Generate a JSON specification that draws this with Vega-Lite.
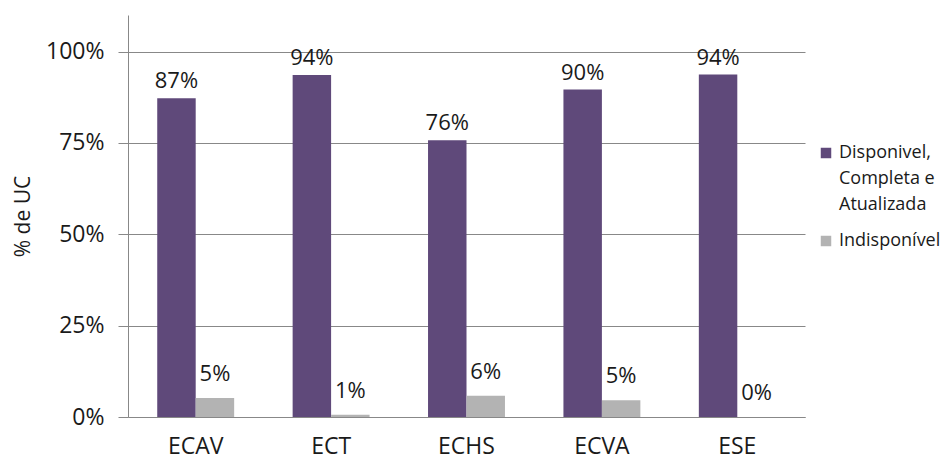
{
  "$schema": "https://vega.github.io/schema/vega-lite/v6.json",
  "autosize": {"type": "none"},
  "padding": {"left": 128, "top": 15, "right": 138, "bottom": 45},
  "width": 677,
  "height": 402,
  "background": "white",
  "config": {
    "font": "Open Sans",
    "view": {"stroke": null},
    "text": {"font": "Open Sans"}
  },
  "data": {
    "values": [
      {"escola": "ECAV", "serie": "Disponivel, Completa e Atualizada", "valor": 0.872},
      {"escola": "ECT", "serie": "Disponivel, Completa e Atualizada", "valor": 0.936},
      {"escola": "ECHS", "serie": "Disponivel, Completa e Atualizada", "valor": 0.757},
      {"escola": "ECVA", "serie": "Disponivel, Completa e Atualizada", "valor": 0.896},
      {"escola": "ESE", "serie": "Disponivel, Completa e Atualizada", "valor": 0.937},
      {"escola": "ECAV", "serie": "Indisponível", "valor": 0.052},
      {"escola": "ECT", "serie": "Indisponível", "valor": 0.006},
      {"escola": "ECHS", "serie": "Indisponível", "valor": 0.058},
      {"escola": "ECVA", "serie": "Indisponível", "valor": 0.046},
      {"escola": "ESE", "serie": "Indisponível", "valor": 0.0}
    ]
  },
  "encoding": {
    "x": {
      "field": "escola", "type": "nominal", "sort": null,
      "scale": {"paddingInner": 0, "paddingOuter": 0},
      "axis": {
        "title": null, "labelAngle": 0, "ticks": false,
        "domainColor": "#888888", "labelFontSize": 23, "labelColor": "#1a1a1a",
        "labelPadding": 18, "labelFont": "Open Sans"
      }
    },
    "xOffset": {
      "field": "serie", "type": "nominal",
      "scale": {"paddingInner": 0, "paddingOuter": 0.76}
    },
    "y": {
      "field": "valor", "type": "quantitative",
      "scale": {"domain": [0, 1.1], "nice": false, "zero": true},
      "axis": {
        "title": "% de UC", "titleFontSize": 21, "titleFontWeight": "normal",
        "titleColor": "#1a1a1a", "titlePadding": 12, "titleFont": "Open Sans",
        "values": [0, 0.25, 0.5, 0.75, 1], "format": ".0%",
        "labelFontSize": 23, "labelColor": "#1a1a1a", "labelPadding": 14, "labelFont": "Open Sans",
        "tickSize": 10, "tickColor": "#888888", "domainColor": "#888888",
        "gridColor": "#888888", "grid": true
      }
    }
  },
  "layer": [
    {
      "mark": {"type": "bar"},
      "encoding": {
        "color": {
          "field": "serie", "type": "nominal",
          "scale": {"domain": ["Disponivel, Completa e Atualizada", "Indisponível"], "range": ["#5f497a", "#b3b3b3"]},
          "legend": {
            "title": null, "orient": "none", "legendX": 689, "legendY": 129,
            "labelFontSize": 18, "labelColor": "#1a1a1a", "labelFont": "Open Sans",
            "symbolType": "square", "symbolSize": 110, "symbolStrokeWidth": 0,
            "labelLimit": 200, "rowPadding": 18,
            "labelExpr": "datum.label == 'Indisponível' ? datum.label : ['Disponivel,', 'Completa e', 'Atualizada']",
            "encode": {"labels": {"update": {"lineHeight": {"value": 26}}}}
          }
        }
      }
    },
    {
      "transform": [{"filter": "datum.serie != 'Indisponível'"}],
      "mark": {"type": "text", "baseline": "bottom", "dy": -5, "fontSize": 22, "color": "#1a1a1a"},
      "encoding": {"text": {"field": "valor", "type": "quantitative", "format": ".0%"}}
    },
    {
      "transform": [{"filter": "datum.serie == 'Indisponível'"}],
      "mark": {"type": "text", "baseline": "bottom", "dy": -12, "fontSize": 22, "color": "#1a1a1a"},
      "encoding": {"text": {"field": "valor", "type": "quantitative", "format": ".0%"}}
    }
  ]
}
